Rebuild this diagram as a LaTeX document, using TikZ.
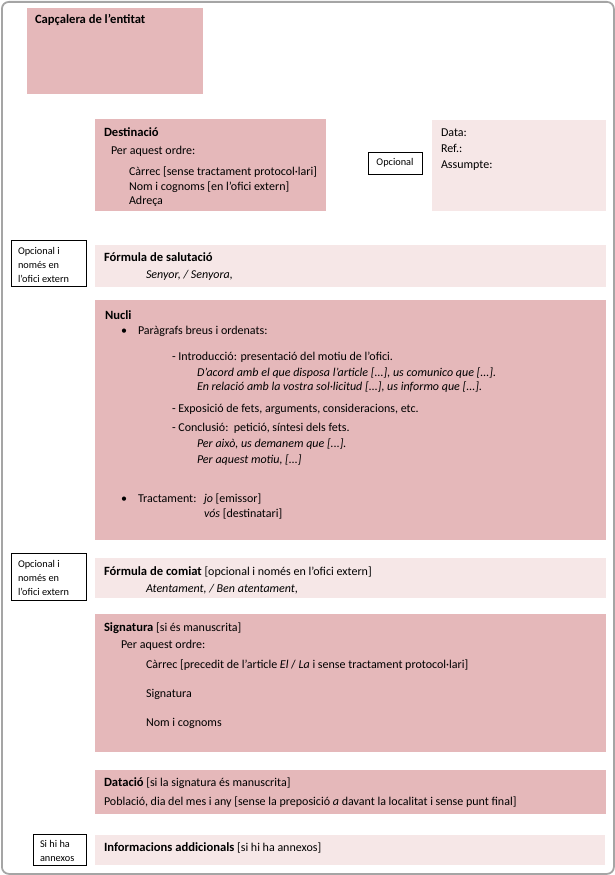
\documentclass[tikz,border=0pt]{standalone}
\usepackage{fontspec}
\setmainfont{Carlito}
\definecolor{darkpink}{RGB}{229,184,186}
\definecolor{lightpink}{RGB}{246,231,231}
\definecolor{framegray}{RGB}{165,165,165}
\newcommand\myb[1]{{\fontsize{12.6}{14}\selectfont\bfseries #1}}
\begin{document}
\begin{tikzpicture}[x=1pt,y=-1pt,
  box/.style={anchor=north west, inner sep=0pt, outer sep=0pt, draw=none},
  dbox/.style={box, fill=darkpink},
  lbox/.style={box, fill=lightpink},
  tagbox/.style={anchor=north west, inner sep=0pt, outer sep=0pt, draw=black, line width=0.9pt, fill=white},
  txt/.style={anchor=base west, inner sep=0pt, outer sep=0pt, font=\fontsize{12}{14}\selectfont},
  ttl/.style={txt, font=\fontsize{12.6}{14}\selectfont\bfseries},
  itx/.style={txt, font=\fontsize{12}{14}\selectfont\itshape},
  tag/.style={anchor=base west, inner sep=0pt, outer sep=0pt, font=\fontsize{10.3}{13}\selectfont},
]
\useasboundingbox (0,0) rectangle (615,875);
\node[draw=framegray, line width=1.8pt, rounded corners=7pt, anchor=north west, inner sep=0pt,
  minimum width=612pt, minimum height=872pt] (frame) at (1,1) {};

% boxes
\node[dbox, minimum width=176pt, minimum height=86pt] (capbox) at (27,8) {};
\node[dbox, minimum width=231pt, minimum height=92pt] (destbox) at (95,119) {};
\node[lbox, minimum width=174pt, minimum height=91pt] (databox) at (432,120) {};
\node[tagbox, minimum width=54pt, minimum height=22pt] (opbox) at (368,152) {};
\node[tagbox, minimum width=75pt, minimum height=46pt] (tag1box) at (11,240) {};
\node[lbox, minimum width=511pt, minimum height=42pt] (salbox) at (95,245) {};
\node[dbox, minimum width=511pt, minimum height=240pt] (nuclibox) at (95,300) {};
\node[tagbox, minimum width=75pt, minimum height=47pt] (tag2box) at (11,553) {};
\node[lbox, minimum width=511pt, minimum height=40pt] (comiatbox) at (95,558) {};
\node[dbox, minimum width=511pt, minimum height=138pt] (signbox) at (95,614) {};
\node[dbox, minimum width=511pt, minimum height=44pt] (databox2) at (95,770) {};
\node[tagbox, minimum width=53pt, minimum height=31pt] (tag3box) at (33,834) {};
\node[lbox, minimum width=510pt, minimum height=30pt] (infobox) at (95,835) {};

% Capçalera
\node[ttl] (capt) at (35,24) {Capçalera de l’entitat};

% Destinació
\node[ttl] (destt) at (104,136) {Destinació};
\node[txt] (dest1) at (111,154) {Per aquest ordre:};
\node[txt] (dest2) at (129,175) {Càrrec [sense tractament protocol·lari]};
\node[txt] (dest3) at (129,190) {Nom i cognoms [en l’ofici extern]};
\node[txt] (dest4) at (129,204) {Adreça};

% Opcional
\node[font=\fontsize{10.3}{13}\selectfont, inner sep=0pt] (opt) at (opbox.center) {Opcional};

% Data
\node[txt] (data1) at (441,136) {Data:};
\node[txt] (data2) at (441,152) {Ref.:};
\node[txt] (data3) at (441,168) {Assumpte:};

% tag 1
\node[tag] (t1a) at (18,254) {Opcional i};
\node[tag] (t1b) at (18,268) {només en};
\node[tag] (t1c) at (18,282) {l’ofici extern};

% Salutació
\node[ttl] (salt) at (104,261) {Fórmula de salutació};
\node[itx] (sal1) at (146,278) {Senyor, / Senyora,};

% Nucli
\node[ttl] (nuclit) at (105,319) {Nucli};
\node[txt] (b1) at (121,334) {•};
\node[txt] (n1) at (138,334) {Paràgrafs breus i ordenats:};
\node[txt] (n2) at (172,360) {- Introducció: presentació del motiu de l’ofici.};
\node[itx] (n3) at (197,376) {D’acord amb el que disposa l’article [...], us comunico que [...].};
\node[itx] (n4) at (197,390) {En relació amb la vostra sol·licitud [...], us informo que [...].};
\node[txt] (n5) at (172,412) {- Exposició de fets, arguments, consideracions, etc.};
\node[txt] (n6) at (172,431) {- Conclusió:\ \ petició, síntesi dels fets.};
\node[itx] (n7) at (197,447) {Per això, us demanem que [...].};
\node[itx] (n8) at (197,463) {Per aquest motiu, [...]};
\node[txt] (b2) at (121,502) {•};
\node[txt] (n9) at (138,502) {Tractament:};
\node[txt] (n10) at (204,502) {\textit{jo} [emissor]};
\node[txt] (n11) at (204,517) {\textit{vós} [destinatari]};

% tag 2
\node[tag] (t2a) at (18,567) {Opcional i};
\node[tag] (t2b) at (18,581) {només en};
\node[tag] (t2c) at (18,595) {l’ofici extern};

% Comiat
\node[txt] (comt) at (104,575) {\myb{Fórmula de comiat} [opcional i només en l’ofici extern]};
\node[itx] (com1) at (146,592) {Atentament, / Ben atentament,};

% Signatura
\node[txt] (signt) at (104,631) {\myb{Signatura} [si és manuscrita]};
\node[txt] (sign1) at (121,648) {Per aquest ordre:};
\node[txt] (sign2) at (146,668) {Càrrec [precedit de l’article \textit{El} / \textit{La} i sense tractament protocol·lari]};
\node[txt] (sign3) at (146,697) {Signatura};
\node[txt] (sign4) at (146,726) {Nom i cognoms};

% Datació
\node[txt] (datt) at (104,786) {\myb{Datació} [si la signatura és manuscrita]};
\node[txt] (dat1) at (104,805) {Població, dia del mes i any [sense la preposició \textit{a} davant la localitat i sense punt final]};

% tag 3
\node[tag] (t3a) at (40,847) {Si hi ha};
\node[tag] (t3b) at (40,861) {annexos};

% Informacions
\node[txt] (infot) at (104,851) {\myb{Informacions addicionals} [si hi ha annexos]};
\end{tikzpicture}
\end{document}
